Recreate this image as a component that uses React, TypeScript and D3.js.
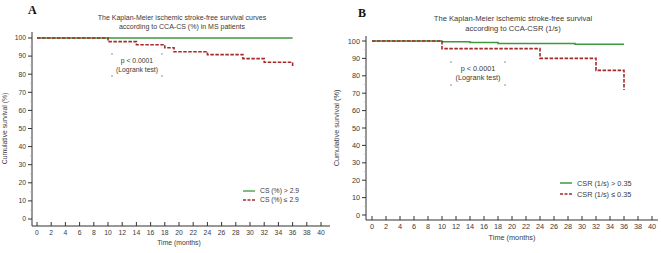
import React from 'react';
import * as d3 from 'd3';

// tick labels
const monthTicks = [0, 2, 4, 6, 8, 10, 12, 14, 16, 18, 20, 22, 24, 26, 28, 30, 32, 34, 36, 38, 40];
const survTicks = [0, 10, 20, 30, 40, 50, 60, 70, 80, 90, 100];
const survMinor = [5, 15, 25, 35, 45, 55, 65, 75, 85, 95];

// Panel A: CCA-CS (%)
const aHighTimes = [0, 36];
const aHighSurv = [100, 100];
const aLowTimes = [0, 10, 14, 18, 19.3, 24, 29, 32, 36, 36];
const aLowSurv = [100, 98, 96.3, 94.6, 92.4, 90.8, 88.6, 86.6, 86.6, 84.5];

// Panel B: CCA-CSR (1/s)
const bHighTimes = [0, 10, 14, 18, 29, 36];
const bHighSurv = [100, 99.6, 99.2, 98.5, 98.1, 98.1];
const bLowTimes = [0, 10, 24, 32, 36, 36];
const bLowSurv = [100, 95.6, 90, 83.1, 83.1, 71.8];

const GREEN = '#3c9a3c';
const RED = '#a52a2a';

type PanelProps = {
  letter: string;
  letterX: number;
  letterY: number;
  title: string[];
  titleX: number;
  titleY: number;
  titleFs: number;
  x0: number; x1: number; // pixel for 0 and 40 months
  y0: number; y100: number; // pixel for 0 and 100 %
  axisX: number; axisY: number; axisTop: number; axisRight: number;
  fs: number;
  yLabelX: number;
  high: [number[], number[]];
  low: [number[], number[]];
  highWidth: number;
  pX: number; pY: number; box: [number, number, number, number];
  legX: number; legY: number; legGap: number; legLabels: string[]; legLine: number;
};

const Panel = (p: PanelProps) => {
  const x = d3.scaleLinear().domain([0, 40]).range([p.x0, p.x1]);
  const y = d3.scaleLinear().domain([0, 100]).range([p.y0, p.y100]);
  const line = d3.line<[number, number]>()
    .x(d => x(d[0]))
    .y(d => y(d[1]))
    .curve(d3.curveStepAfter);
  const pts = (t: number[], s: number[]) => t.map((v, i) => [v, s[i]] as [number, number]);
  const font = 'Liberation Sans, Arial, sans-serif';
  const midY = (p.y0 + p.y100) / 2;
  const [bx0, by0, bx1, by1] = p.box;

  return (
    <g fontFamily={font} fill="#3a3a3a">
      <text x={p.letterX} y={p.letterY} fontFamily="Liberation Serif, Times New Roman, serif"
        fontWeight="bold" fontSize={12} fill="#111">{p.letter}</text>
      {p.title.map((t, i) => (
        <text key={i} x={p.titleX} y={p.titleY + i * (p.titleFs + 2)} textAnchor="middle" fontSize={p.titleFs}>{t}</text>
      ))}
      {/* axes */}
      <line x1={p.axisX} x2={p.axisX} y1={p.axisTop} y2={p.axisY} stroke="#333" strokeWidth={1} />
      <line x1={p.axisX} x2={p.axisRight} y1={p.axisY} y2={p.axisY} stroke="#333" strokeWidth={1.2} />
      {survTicks.map(v => (
        <g key={v}>
          <line x1={p.axisX - 4} x2={p.axisX} y1={y(v)} y2={y(v)} stroke="#333" />
          <text x={p.axisX - 6} y={y(v)} dy="0.35em" textAnchor="end" fontSize={p.fs}>{v}</text>
        </g>
      ))}
      {survMinor.map(v => (
        <line key={v} x1={p.axisX - 2} x2={p.axisX} y1={y(v)} y2={y(v)} stroke="#aaa" strokeWidth={0.6} />
      ))}
      {monthTicks.map(v => (
        <g key={v}>
          <line x1={x(v)} x2={x(v)} y1={p.axisY - 4} y2={p.axisY} stroke="#333" />
          <text x={x(v)} y={p.axisY + p.fs + 2} textAnchor="middle" fontSize={p.fs}>{v}</text>
        </g>
      ))}
      <text x={(p.x0 + p.x1) / 2} y={p.axisY + 2 * p.fs + 5} textAnchor="middle" fontSize={p.fs}>Time (months)</text>
      <text transform={`translate(${p.yLabelX},${midY}) rotate(-90)`} textAnchor="middle" fontSize={p.fs}>
        Cumulative survival (%)
      </text>
      {/* curves */}
      <path d={line(pts(p.high[0], p.high[1])) || ''} fill="none" stroke={GREEN} strokeWidth={p.highWidth} />
      <path d={line(pts(p.low[0], p.low[1])) || ''} fill="none" stroke={RED} strokeWidth={1.6} strokeDasharray="3.5,1.5" />
      {/* annotation */}
      {[[bx0, by0], [bx1, by0], [bx0, by1], [bx1, by1]].map(([cx, cy], i) => (
        <rect key={i} x={cx - 0.8} y={cy - 0.8} width={1.6} height={1.6} fill="#aaa" />
      ))}
      <text x={p.pX} y={p.pY} textAnchor="middle" fontSize={p.fs}>p &lt; 0.0001</text>
      <text x={p.pX} y={p.pY + p.fs + 2} textAnchor="middle" fontSize={p.fs}>(Logrank test)</text>
      {/* legend */}
      <line x1={p.legX} x2={p.legX + p.legLine} y1={p.legY} y2={p.legY} stroke={GREEN} strokeWidth={p.highWidth} />
      <line x1={p.legX} x2={p.legX + p.legLine} y1={p.legY + p.legGap} y2={p.legY + p.legGap}
        stroke={RED} strokeWidth={1.6} strokeDasharray="3,1.5" />
      <text x={p.legX + p.legLine + 5} y={p.legY} dy="0.35em" fontSize={p.fs}>{p.legLabels[0]}</text>
      <text x={p.legX + p.legLine + 5} y={p.legY + p.legGap} dy="0.35em" fontSize={p.fs}>{p.legLabels[1]}</text>
    </g>
  );
};

export default function App() {
  return (
    <svg width={661} height={253} style={{ position: 'absolute', left: 0, top: 0, background: '#fff' }}>
      <Panel
        letter="A" letterX={28} letterY={14}
        title={['The Kaplan-Meier ischemic stroke-free survival curves', 'according to CCA-CS (%) in MS patients']}
        titleX={182} titleY={20} titleFs={7}
        x0={37} x1={321} y0={219} y100={38}
        axisX={32} axisY={226} axisTop={32} axisRight={330}
        fs={6.8} yLabelX={7}
        high={[aHighTimes, aHighSurv]} low={[aLowTimes, aLowSurv]} highWidth={1.3}
        pX={137} pY={63} box={[112, 54, 162, 76]}
        legX={243} legY={191} legGap={9} legLine={12}
        legLabels={['CS (%) > 2.9', 'CS (%) ≤ 2.9']}
      />
      <Panel
        letter="B" letterX={358} letterY={17}
        title={['The Kaplan-Meier ischemic stroke-free survival', 'according to CCA-CSR (1/s)']}
        titleX={513} titleY={21} titleFs={7.6}
        x0={372} x1={652} y0={215} y100={41}
        axisX={366} axisY={220} axisTop={36} axisRight={658}
        fs={7.3} yLabelX={339}
        high={[bHighTimes, bHighSurv]} low={[bLowTimes, bLowSurv]} highWidth={1.5}
        pX={478} pY={71} box={[451, 62, 505, 85]}
        legX={560} legY={183} legGap={11} legLine={12}
        legLabels={['CSR (1/s) > 0.35', 'CSR (1/s) ≤  0.35']}
      />
    </svg>
  );
}
